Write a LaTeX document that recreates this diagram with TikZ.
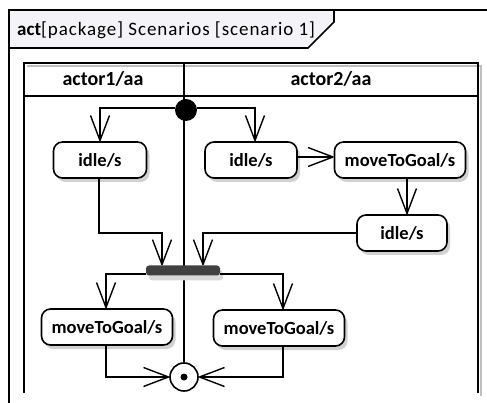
\documentclass[tikz,border=0pt]{standalone}
\usepackage{fontspec}
\setmainfont{Carlito}
\usetikzlibrary{arrows.meta,shadows}
\definecolor{tabfill}{HTML}{F4F3F7}
\definecolor{barfill}{HTML}{404040}
% open V arrow head with straight arms
\pgfdeclarearrow{
  name = OpenVee,
  parameters = {\the\pgfarrowlength,\the\pgfarrowwidth},
  setup code = {
    \pgfarrowssettipend{0.7pt}
    \pgfarrowssetlineend{-0.5pt}
    \pgfarrowssetbackend{-\pgfarrowlength}
    \pgfarrowsupperhullpoint{-\pgfarrowlength}{.5\pgfarrowwidth}
    \pgfarrowsupperhullpoint{0pt}{0pt}
    \pgfarrowssavethe\pgfarrowlength
    \pgfarrowssavethe\pgfarrowwidth
  },
  drawing code = {
    \pgfsetlinewidth{1.4pt}
    \pgfsetdash{}{0pt}
    \pgfsetroundjoin
    \pgfsetbuttcap
    \pgfpathmoveto{\pgfqpoint{-\pgfarrowlength}{.5\pgfarrowwidth}}
    \pgfpathlineto{\pgfqpoint{0pt}{0pt}}
    \pgfpathlineto{\pgfqpoint{-\pgfarrowlength}{-.5\pgfarrowwidth}}
    \pgfusepathqstroke
  },
  defaults = {length=25pt, width=20pt}
}
\tikzset{
  frameline/.style={line width=1.6pt},
  laneline/.style={line width=1.8pt},
  action/.style={draw, line width=1.6pt, rounded corners=9pt, fill=white,
    minimum height=36pt, inner xsep=4pt, font=\fontsize{18.5}{22}\selectfont\bfseries,
    drop shadow={shadow xshift=3pt, shadow yshift=-4pt, fill=black!18, opacity=1}},
  flow/.style={line width=1.4pt, -{OpenVee[length=25pt,width=19pt]}},
  lanehead/.style={font=\fontsize{20}{24}\selectfont\bfseries},
}
\begin{document}
\begin{tikzpicture}[x=1pt,y=-1pt]
\useasboundingbox (0,0) rectangle (487,403);
% outer frame with its name tab
\fill[tabfill] (9,10) -- (334,10) -- (334,22) -- (308,48) -- (9,48) -- cycle;
\draw[frameline] (487,10) -- (9,10) -- (9,403);
\draw[frameline] (334,10) -- (334,22) -- (308,48) -- (9,48);
\node[anchor=west, inner sep=0pt, font=\fontsize{19}{22}\selectfont] (title) at (17,30)
  {\textbf{act}\addfontfeature{LetterSpace=5}[package] Scenarios [scenario 1]};
% swimlanes
\draw[laneline, black!25] (27,66) -- (481,66) -- (481,396);
\draw[laneline] (24,393) -- (24,63) -- (478,63) -- (478,393);
\draw[laneline] (24,96) -- (478,96);
\draw[laneline] (184,63) -- (184,96);
\node[lanehead] (h1) at (103,79) {actor1/aa};
\node[lanehead] (h2) at (331,79) {actor2/aa};
% actions
\node[action, minimum width=93pt] (a1) at (100,160) {idle/s};
\node[action, minimum width=92pt] (b1) at (251,160) {idle/s};
\node[action, minimum width=131pt] (b2) at (400,160) {moveToGoal/s};
\node[action, minimum width=90pt] (b3) at (402,233) {idle/s};
\node[action, minimum width=131pt] (a2) at (107,327) {moveToGoal/s};
\node[action, minimum width=131pt] (b4) at (279,328) {moveToGoal/s};
% control nodes
\coordinate (start) at (186,110);
\coordinate (endc) at (184,377);
\node[draw, line width=1.6pt, circle, minimum size=28pt, inner sep=0pt, fill=white] (final) at (endc) {};
\draw[laneline] (184,96) -- (final.north);
\node[circle, fill=black, minimum size=22pt, inner sep=0pt] (init) at (start) {};
\node[fill=black, circle, minimum size=7pt, inner sep=0pt] (finaldot) at (endc) {};
\node[fill=barfill, rounded corners=3pt, minimum width=74pt, minimum height=10pt, inner sep=0pt,
  drop shadow={shadow xshift=3pt, shadow yshift=-5pt, fill=black!15, opacity=1}] (join) at (183,270.5) {};
% flows
\draw[flow] (init.west |- 0,108) -| (a1.north);
\draw[flow] (init.east |- 0,108) -| (b1.north west -| 255,0) ;
\draw[flow] (b1.east |- 0,157) -- (b2.west |- 0,157);
\draw[flow] (b2.south -| 407,0) -- (b3.north -| 407,0);
\draw[flow] (a1.south -| 99,0) |- (162,233) -- (join.north -| 162,0);
\draw[flow] (b3.west) -- (203,233) -- (join.north -| 203,0);
\draw[flow] (join.west |- 0,274) -| (a2.north -| 106,0);
\draw[flow] (join.east |- 0,274) -| (b4.north -| 283,0);
\draw[flow] (a2.south -| 106,0) |- (final.west);
\draw[flow] (b4.south -| 283,0) |- (final.east);
\end{tikzpicture}
\end{document}
